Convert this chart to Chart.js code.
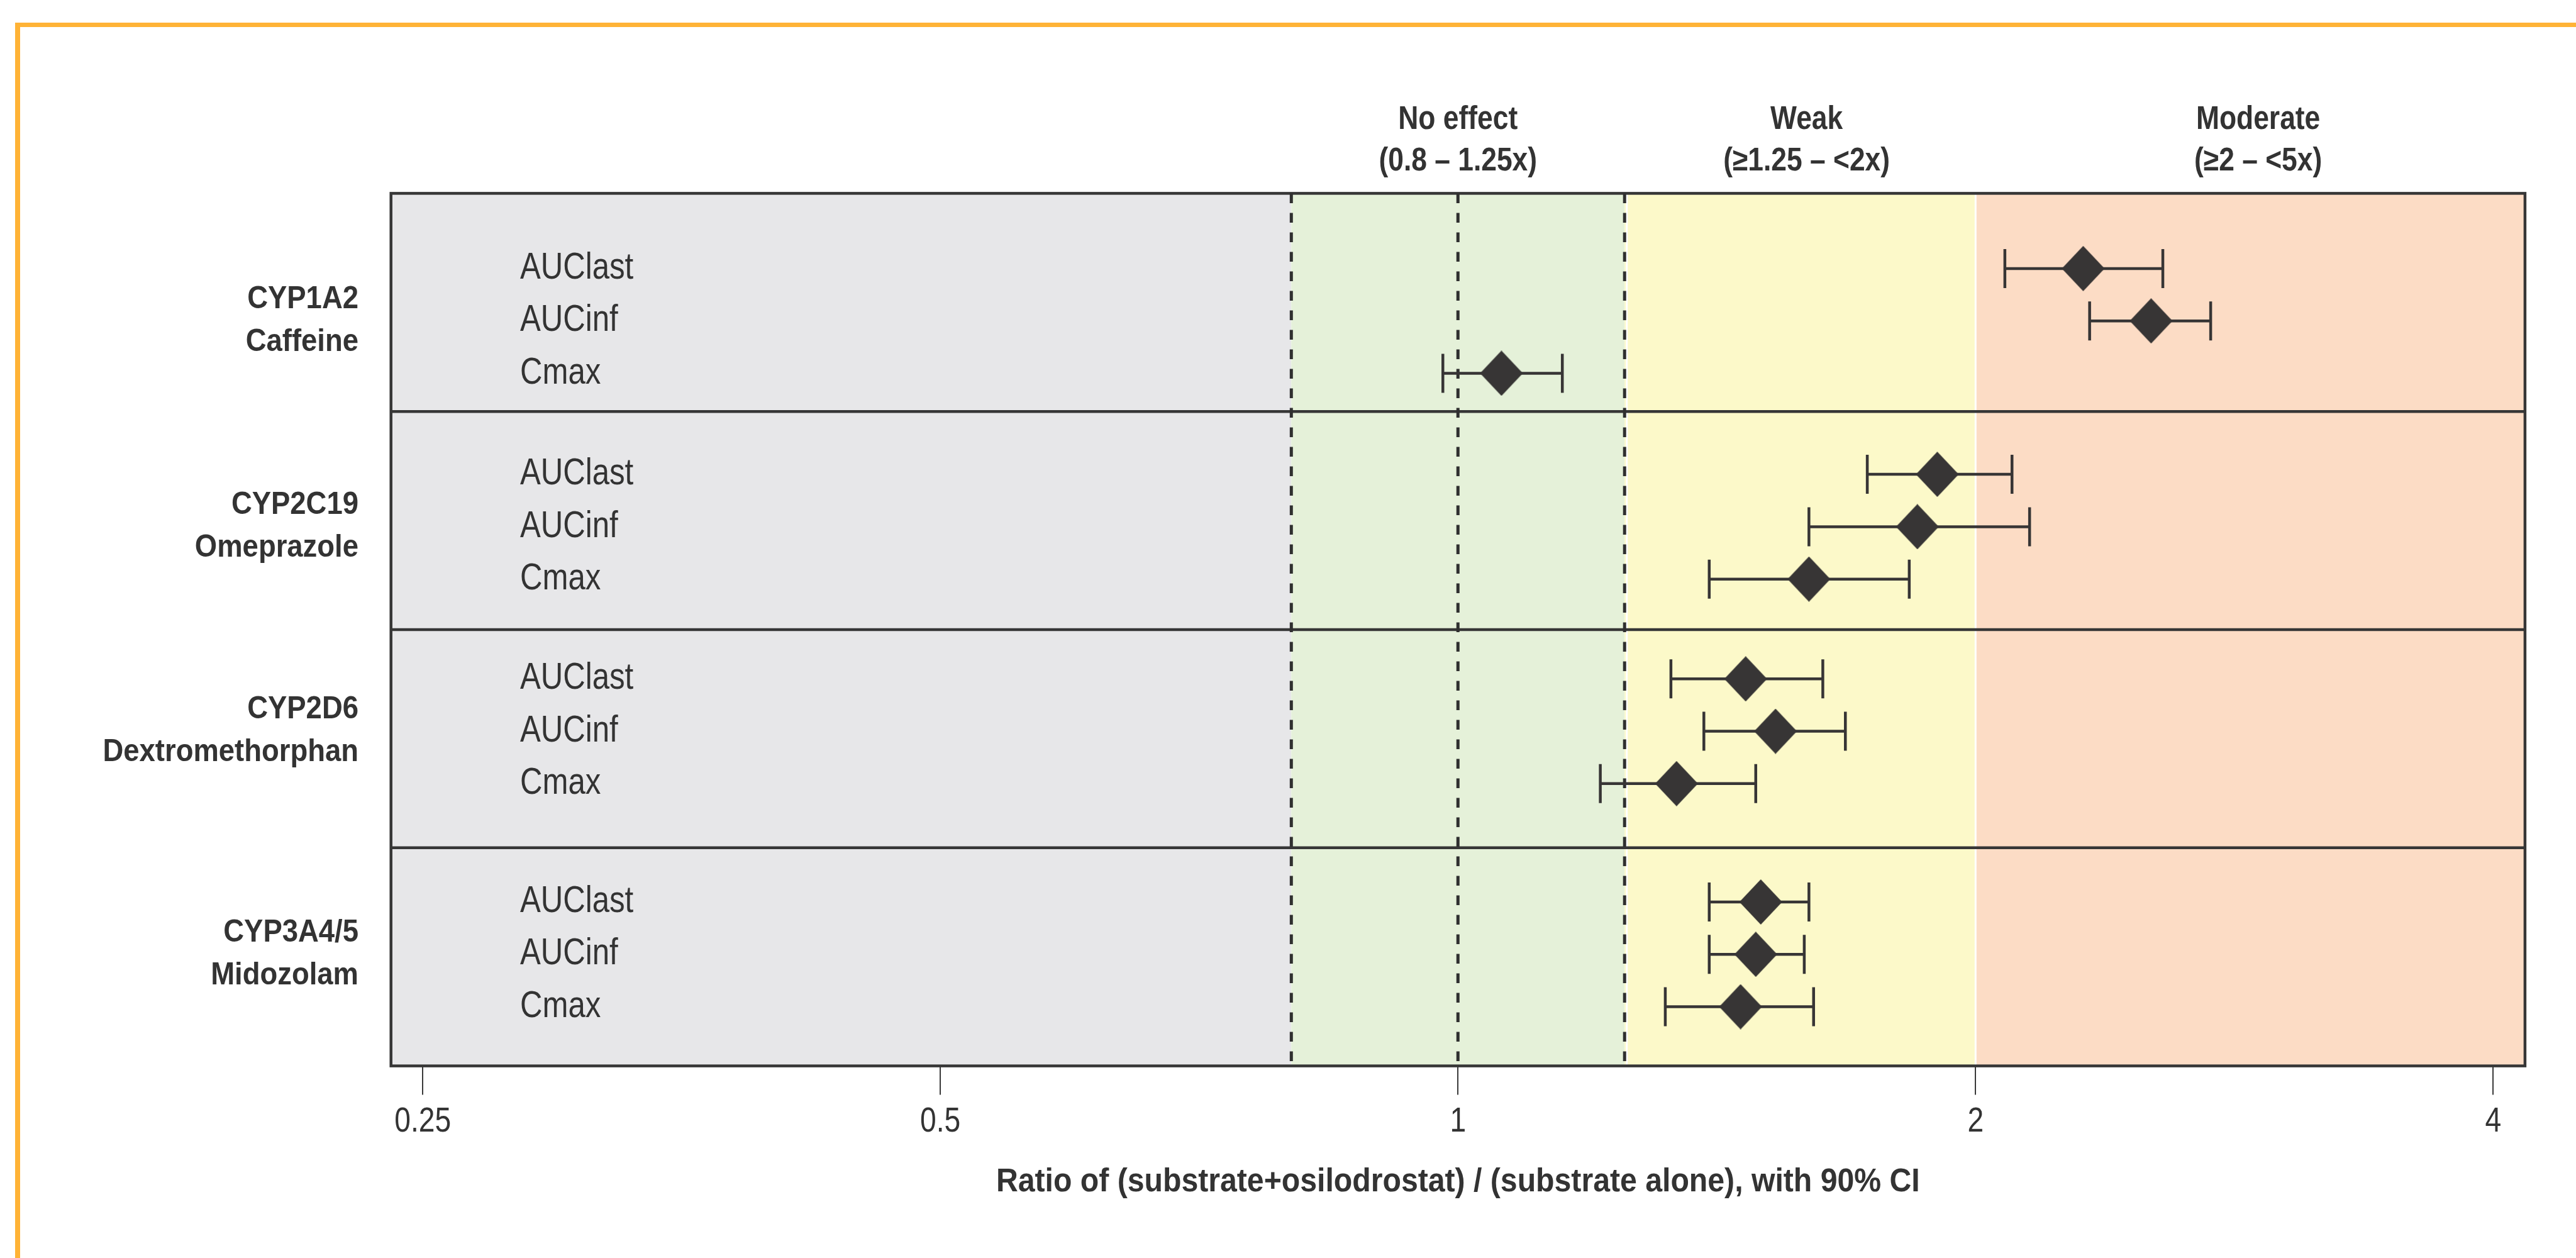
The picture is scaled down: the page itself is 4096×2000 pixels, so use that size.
<!DOCTYPE html>
<html>
<head>
<meta charset="utf-8">
<script src="https://cdn.jsdelivr.net/npm/chart.js@4.4.1/dist/chart.umd.min.js"></script>
<style>
  html, body { margin: 0; padding: 0; background: #fff; }
  #wrap { position: relative; width: 4096px; height: 2000px; overflow: hidden; }
  #frame { position: absolute; left: 24px; top: 36px; right: -40px; bottom: -40px;
           border-top: 7px solid #FFB336; border-left: 8px solid #FFB336; }
  canvas { position: absolute; left: 0; top: 0; }
</style>
</head>
<body>
<div id="wrap">
  <div id="frame"></div>
  <canvas id="myChart" width="4096" height="2000"></canvas>
</div>
<script>
// 資料
const enzymes = ['CYP1A2', 'CYP2C19', 'CYP2D6', 'CYP3A4/5'];
const substrates = ['Caffeine', 'Omeprazole', 'Dextromethorphan', 'Midozolam'];
const parameters = ['AUClast', 'AUCinf', 'Cmax'];
// 每個酵素依序 AUClast, AUCinf, Cmax
const gmr    = [2.31, 2.53, 1.06,  1.90, 1.85, 1.60,  1.47, 1.53, 1.34,  1.50, 1.49, 1.46];
const ciLow  = [2.08, 2.33, 0.98,  1.73, 1.60, 1.40,  1.33, 1.39, 1.21,  1.40, 1.40, 1.32];
const ciHigh = [2.57, 2.74, 1.15,  2.10, 2.15, 1.83,  1.63, 1.68, 1.49,  1.60, 1.59, 1.61];
const xTicks = [0.25, 0.5, 1, 2, 4];
const bandLimits = [0.8, 1.25, 2];
const refLines = [0.8, 1, 1.25];
const effectLabels = [['No effect', '(0.8 – 1.25x)'], ['Weak', '(≥1.25 – <2x)'], ['Moderate', '(≥2 – <5x)']];
const axisTitle = 'Ratio of (substrate+osilodrostat) / (substrate alone), with 90% CI';

// 版面設定
const FONT = "'Liberation Sans', Arial, sans-serif";
const TEXT = '#333333';
const INK = '#373535';
const bandColors = ['#E7E7E9', '#E5F1D9', '#FCF9C9', '#FCDCC5'];
const effectAt = [1, 1.595, 2.92];
const groupSlots = 4.165;
const groupPad = [1.435, 1.2, 0.94, 1.035];

function rowPos(g, k) {
    return g * groupSlots + groupPad[g] + k;
}

const points = gmr.map((v, i) => ({ x: v, y: rowPos(Math.floor(i / 3), i % 3) }));

// 菱形標記
const diamond = document.createElement('canvas');
diamond.width = 68;
diamond.height = 72;
(function () {
    const c = diamond.getContext('2d');
    c.fillStyle = INK;
    c.beginPath();
    c.moveTo(34, 0);
    c.lineTo(68, 36);
    c.lineTo(34, 72);
    c.lineTo(0, 36);
    c.closePath();
    c.fill();
})();

// 窄體字：水平壓縮
function narrowText(ctx, str, x, y, align, k) {
    ctx.save();
    ctx.translate(x, y);
    ctx.scale(k, 1);
    ctx.textAlign = align;
    ctx.fillText(str, 0, 0);
    ctx.restore();
}

// 背景色帶、框線、參考線與誤差線
const backdrop = {
    id: 'backdrop',
    beforeDatasetsDraw(chart) {
        const { ctx, chartArea: a, scales: { x, y } } = chart;
        const h = a.bottom - a.top;
        ctx.save();

        const edges = [x.min, ...bandLimits, x.max];
        bandColors.forEach((c, i) => {
            const x0 = x.getPixelForValue(edges[i]);
            const x1 = x.getPixelForValue(edges[i + 1]);
            ctx.fillStyle = c;
            ctx.fillRect(x0, a.top, x1 - x0, h);
        });
        ctx.fillStyle = '#ffffff';
        ctx.fillRect(x.getPixelForValue(1.25) + 2, a.top, 3, h);
        ctx.fillRect(x.getPixelForValue(2) - 1.5, a.top, 3, h);

        // 組別分隔線
        ctx.strokeStyle = '#363636';
        ctx.lineWidth = 4.5;
        for (let g = 1; g < enzymes.length; g++) {
            const py = y.getPixelForValue(g * groupSlots);
            ctx.beginPath();
            ctx.moveTo(a.left, py);
            ctx.lineTo(a.right, py);
            ctx.stroke();
        }
        ctx.strokeRect(a.left, a.top, a.right - a.left, h);

        // 虛線
        ctx.strokeStyle = '#2f2f2f';
        ctx.setLineDash([15.5, 15.5]);
        ctx.lineWidth = 5;
        refLines.forEach(v => {
            const px = x.getPixelForValue(v);
            ctx.beginPath();
            ctx.moveTo(px, a.top);
            ctx.lineTo(px, a.bottom);
            ctx.stroke();
        });
        ctx.setLineDash([]);

        // 90% CI
        ctx.strokeStyle = INK;
        ctx.lineWidth = 4.5;
        points.forEach((p, i) => {
            const py = y.getPixelForValue(p.y);
            const x0 = x.getPixelForValue(ciLow[i]);
            const x1 = x.getPixelForValue(ciHigh[i]);
            ctx.beginPath();
            ctx.moveTo(x0, py);
            ctx.lineTo(x1, py);
            ctx.moveTo(x0, py - 31);
            ctx.lineTo(x0, py + 31);
            ctx.moveTo(x1, py - 31);
            ctx.lineTo(x1, py + 31);
            ctx.stroke();
        });
        ctx.restore();
    }
};

// 文字標籤
const labels = {
    id: 'labels',
    afterDatasetsDraw(chart) {
        const { ctx, chartArea: a, scales: { x, y } } = chart;
        ctx.save();
        ctx.fillStyle = TEXT;

        // 效應分類標題
        ctx.textBaseline = 'alphabetic';
        ctx.font = 'bold 51px ' + FONT;
        effectLabels.forEach((lines, i) => {
            const px = x.getPixelForValue(effectAt[i]);
            narrowText(ctx, lines[0], px, a.top - 102, 'center', 0.87);
            narrowText(ctx, lines[1], px, a.top - 36, 'center', 0.87);
        });

        // x 軸刻度與標題
        ctx.font = '55px ' + FONT;
        xTicks.forEach(v => {
            narrowText(ctx, String(v), x.getPixelForValue(v), 1799, 'center', 0.84);
        });
        ctx.font = 'bold 51px ' + FONT;
        narrowText(ctx, axisTitle, (a.left + a.right) / 2, 1894, 'center', 0.945);

        // 左側標籤
        ctx.textBaseline = 'middle';
        enzymes.forEach((name, g) => {
            const mid = y.getPixelForValue(rowPos(g, 1));
            ctx.font = 'bold 50.5px ' + FONT;
            narrowText(ctx, name, 570, mid - 34, 'right', 0.9);
            narrowText(ctx, substrates[g], 570, mid + 34, 'right', 0.9);

            ctx.font = '58.5px ' + FONT;
            parameters.forEach((p, k) => {
                narrowText(ctx, p, 827, y.getPixelForValue(rowPos(g, k)), 'left', 0.84);
            });
        });
        ctx.restore();
    }
};

Chart.defaults.font.family = FONT;
Chart.defaults.color = TEXT;

const ctx = document.getElementById('myChart').getContext('2d');
const myChart = new Chart(ctx, {
    type: 'scatter',
    data: {
        datasets: [{
            data: points,
            pointStyle: diamond,
            pointRadius: 35,
            pointHoverRadius: 35
        }]
    },
    options: {
        responsive: false,
        animation: false,
        events: [],
        layout: {
            padding: { left: 621.7, right: 81.1, top: 307.4, bottom: 0 }
        },
        plugins: {
            legend: { display: false },
            tooltip: { enabled: false }
        },
        scales: {
            x: {
                type: 'logarithmic',
                min: 0.2396,
                max: 4.174,
                afterBuildTicks: s => { s.ticks = xTicks.map(v => ({ value: v })); },
                afterFit: s => { s.height = 305.4; },
                grid: {
                    drawOnChartArea: false,
                    drawTicks: true,
                    tickLength: 46,
                    color: '#3a3a3a',
                    lineWidth: 2
                },
                border: { display: false },
                ticks: { display: false }
            },
            y: {
                type: 'linear',
                display: false,
                reverse: true,
                min: 0,
                max: groupSlots * enzymes.length
            }
        }
    },
    plugins: [backdrop, labels]
});
</script>
</body>
</html>
